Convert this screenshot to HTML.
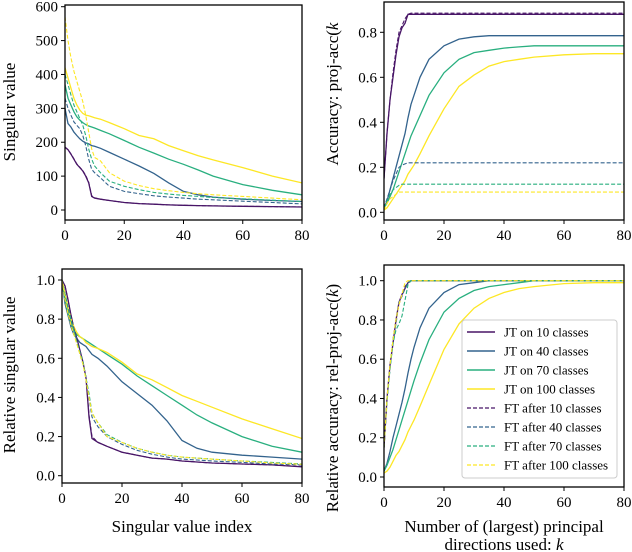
<!DOCTYPE html>
<html><head><meta charset="utf-8">
<style>
body{margin:0;background:#fff;}
svg{display:block;font-family:"Liberation Serif","DejaVu Serif",serif;}
</style></head>
<body>
<svg id="fig" width="632" height="552" viewBox="0 0 632 552" xmlns="http://www.w3.org/2000/svg"></svg>
<script>
const ks = [0,1,2,3,4,5,6,7,8,9,10,12,15,20,25,30,35,40,45,50,60,70,80];
const seriesNames = ["JT on 10 classes","JT on 40 classes","JT on 70 classes","JT on 100 classes","FT after 10 classes","FT after 40 classes","FT after 70 classes","FT after 100 classes"];
const colors = ["#481567","#33638d","#29af7f","#fde725","#481567","#33638d","#29af7f","#fde725"];
// Panel A: singular value
const svJT10 = [185,178,165,150,135,125,115,100,80,40,35,32,28,22,19,17,15,14,13,12,11,10,9];
const svJT40 = [300,255,245,230,220,210,203,198,195,190,188,182,170,150,130,108,80,55,45,38,32,28,25];
const svJT70 = [370,330,310,290,275,265,258,252,248,245,242,235,225,205,185,168,150,135,118,100,75,58,45];
const svJT100 = [420,390,360,330,310,295,285,280,278,275,272,268,258,240,220,210,190,175,160,148,125,100,80];
const svFT10 = [186,178,166,151,136,126,116,102,82,42,36,32,28,22,19,17,15,14,13,12,11,10,9];
const svFT40 = [330,300,280,260,250,240,220,190,150,120,110,95,70,55,48,42,38,35,32,30,26,22,18];
const svFT70 = [400,370,340,310,290,270,250,220,180,150,130,110,85,70,60,52,47,43,40,37,33,29,25];
const svFT100 = [570,500,450,410,380,350,320,280,230,180,155,145,110,85,72,63,57,52,48,45,40,35,30];
// Panel B: accuracy
const accJT10 = [0.15,0.35,0.5,0.6,0.7,0.78,0.82,0.84,0.88,0.88,0.88,0.88,0.88,0.88,0.88,0.88,0.88,0.88,0.88,0.88,0.88,0.88,0.88];
const accJT40 = [0.02,0.05,0.1,0.15,0.2,0.25,0.3,0.35,0.42,0.48,0.52,0.6,0.68,0.74,0.77,0.78,0.785,0.785,0.785,0.785,0.785,0.785,0.785];
const accJT70 = [0.02,0.04,0.07,0.1,0.14,0.18,0.22,0.26,0.3,0.34,0.37,0.43,0.52,0.62,0.68,0.71,0.72,0.73,0.735,0.74,0.74,0.74,0.74];
const accJT100 = [0.01,0.02,0.04,0.06,0.08,0.1,0.12,0.14,0.17,0.19,0.21,0.26,0.34,0.46,0.56,0.61,0.65,0.67,0.68,0.69,0.7,0.705,0.705];
const accFT10 = [0.15,0.35,0.5,0.62,0.72,0.8,0.83,0.86,0.88,0.885,0.885,0.885,0.885,0.885,0.885,0.885,0.885,0.885,0.885,0.885,0.885,0.885,0.885];
const accFT40 = [0.02,0.06,0.1,0.14,0.17,0.2,0.21,0.215,0.22,0.22,0.22,0.22,0.22,0.22,0.22,0.22,0.22,0.22,0.22,0.22,0.22,0.22,0.22];
const accFT70 = [0.02,0.05,0.08,0.1,0.11,0.12,0.125,0.125,0.125,0.125,0.125,0.125,0.125,0.125,0.125,0.125,0.125,0.125,0.125,0.125,0.125,0.125,0.125];
const accFT100 = [0.01,0.04,0.06,0.07,0.08,0.09,0.09,0.09,0.09,0.09,0.09,0.09,0.09,0.09,0.09,0.09,0.09,0.09,0.09,0.09,0.09,0.09,0.09];
// Panel C: relative singular value
const rsvJT10 = [1.0,0.97,0.9,0.82,0.75,0.7,0.64,0.58,0.5,0.3,0.19,0.17,0.15,0.12,0.105,0.09,0.085,0.075,0.07,0.065,0.06,0.055,0.045];
const rsvJT40 = [1.0,0.88,0.82,0.76,0.72,0.7,0.68,0.67,0.66,0.64,0.62,0.6,0.56,0.48,0.42,0.36,0.28,0.18,0.14,0.12,0.105,0.095,0.085];
const rsvJT70 = [1.0,0.9,0.83,0.78,0.74,0.72,0.71,0.7,0.69,0.68,0.67,0.65,0.62,0.57,0.51,0.46,0.41,0.36,0.31,0.27,0.2,0.15,0.12];
const rsvJT100 = [1.0,0.93,0.86,0.8,0.76,0.73,0.71,0.7,0.68,0.67,0.66,0.65,0.63,0.58,0.52,0.49,0.45,0.41,0.38,0.35,0.29,0.24,0.19];
const rsvFT10 = [1.0,0.97,0.9,0.82,0.75,0.7,0.64,0.58,0.5,0.31,0.2,0.17,0.15,0.12,0.105,0.09,0.085,0.075,0.07,0.065,0.06,0.055,0.047];
const rsvFT40 = [1.0,0.9,0.85,0.79,0.74,0.68,0.62,0.57,0.5,0.4,0.3,0.25,0.2,0.16,0.13,0.11,0.095,0.085,0.08,0.075,0.068,0.06,0.055];
const rsvFT70 = [1.0,0.93,0.86,0.8,0.74,0.68,0.63,0.58,0.5,0.42,0.32,0.27,0.21,0.17,0.14,0.12,0.105,0.095,0.09,0.085,0.075,0.068,0.06];
const rsvFT100 = [1.0,0.9,0.83,0.77,0.72,0.67,0.62,0.57,0.49,0.4,0.32,0.27,0.2,0.17,0.14,0.12,0.105,0.095,0.09,0.085,0.075,0.065,0.058];
// Panel D: relative accuracy
const raJT10 = [0.15,0.4,0.57,0.68,0.8,0.89,0.93,0.96,0.99,1,1,1,1,1,1,1,1,1,1,1,1,1,1];
const raJT40 = [0.03,0.07,0.13,0.2,0.26,0.32,0.38,0.45,0.53,0.6,0.66,0.76,0.86,0.94,0.98,0.99,1,1,1,1,1,1,1];
const raJT70 = [0.03,0.06,0.1,0.14,0.19,0.24,0.29,0.34,0.39,0.44,0.49,0.58,0.7,0.84,0.91,0.95,0.97,0.98,0.99,1,1,1,1];
const raJT100 = [0.02,0.03,0.05,0.08,0.11,0.13,0.16,0.19,0.23,0.26,0.29,0.36,0.47,0.65,0.78,0.86,0.91,0.94,0.96,0.97,0.985,0.99,0.99];
const raFT10 = [0.15,0.4,0.56,0.7,0.8,0.88,0.93,0.97,0.99,1,1,1,1,1,1,1,1,1,1,1,1,1,1];
const raFT40 = [0.15,0.4,0.55,0.7,0.78,0.89,0.92,0.96,0.99,1,1,1,1,1,1,1,1,1,1,1,1,1,1];
const raFT70 = [0.15,0.38,0.55,0.68,0.75,0.78,0.82,0.9,0.98,1,1,1,1,1,1,1,1,1,1,1,1,1,1];
const raFT100 = [0.15,0.4,0.57,0.7,0.8,0.88,0.93,0.99,1,1,1,1,1,1,1,1,1,1,1,1,1,1,1];
const xTicks = [0,20,40,60,80];
const svTicks = [0,100,200,300,400,500,600];
const accTicks = [0,0.2,0.4,0.6,0.8];
const relTicks = [0,0.2,0.4,0.6,0.8,1.0];

const NS="http://www.w3.org/2000/svg";
const svg=document.getElementById('fig');
function mk(tag,attrs,parent){const e=document.createElementNS(NS,tag);for(const k in attrs)e.setAttribute(k,attrs[k]);(parent||svg).appendChild(e);return e;}

function panel(name,box,xr,yr,yticks,fmt,series){
  const g=mk('g',{});
  
  
  const X=v=>box.x0+(v-xr[0])/(xr[1]-xr[0])*(box.x1-box.x0);
  const Y=v=>yr.py0+(v-yr[0])/(yr[1]-yr[0])*(yr.py1-yr.py0);
  const cid='clip-'+name;
  const cp=mk('clipPath',{id:cid},g);mk('rect',{x:box.x0,y:box.y0,width:box.x1-box.x0,height:box.y1-box.y0},cp);
  const lg=mk('g',{'clip-path':'url(#'+cid+')'},g);
  series.forEach((s,i)=>{
    const d=ks.map((k,j)=>(j?'L':'M')+X(k).toFixed(1)+','+Y(s[j]).toFixed(1)).join('');
    const p=mk('path',{d:d,fill:'none',stroke:colors[i],'stroke-width':i<4?1.3:1.1,'stroke-dasharray':i<4?'none':'4,2'},lg);
    
    
  });
  const fr=mk('rect',{x:box.x0,y:box.y0,width:box.x1-box.x0,height:box.y1-box.y0,fill:'none',stroke:'#000','stroke-width':1.3},g);
  
  
  xTicks.forEach(t=>{
    mk('line',{x1:X(t),x2:X(t),y1:box.y1,y2:box.y1+4,stroke:'#000'},g);
    const tx=mk('text',{x:X(t),y:box.y1+20,'font-size':15,'text-anchor':'middle'},g);tx.textContent=t;
    
    
  });
  yticks.forEach(t=>{
    mk('line',{x1:box.x0-4,x2:box.x0,y1:Y(t),y2:Y(t),stroke:'#000'},g);
    const tx=mk('text',{x:box.x0-7,y:Y(t)+5,'font-size':15,'text-anchor':'end'},g);tx.textContent=fmt(t);
    
    
  });
}
panel('panel-singular-value',{x0:65,x1:302,y0:5,y1:220},[0,80],Object.assign([0,600],{py0:210,py1:6.7}),svTicks,t=>t,
  [svJT10,svJT40,svJT70,svJT100,svFT10,svFT40,svFT70,svFT100]);
panel('panel-accuracy',{x0:384,x1:624,y0:2,y1:220},[0,80],Object.assign([0,0.8],{py0:212.3,py1:32.3}),accTicks,t=>t.toFixed(1),
  [accJT10,accJT40,accJT70,accJT100,accFT10,accFT40,accFT70,accFT100]);
panel('panel-relative-singular-value',{x0:62,x1:302,y0:269,y1:483},[0,80],Object.assign([0,1],{py0:475.7,py1:280}),relTicks,t=>t.toFixed(1),
  [rsvJT10,rsvJT40,rsvJT70,rsvJT100,rsvFT10,rsvFT40,rsvFT70,rsvFT100]);
panel('panel-relative-accuracy',{x0:384,x1:624,y0:265,y1:487},[0,80],Object.assign([0,1],{py0:477,py1:280.7}),relTicks,t=>t.toFixed(1),
  [raJT10,raJT40,raJT70,raJT100,raFT10,raFT40,raFT70,raFT100]);

// legend
const lg=mk('g',{});


mk('rect',{x:462,y:320,width:155,height:158,rx:3,fill:'#fff','fill-opacity':0.85,stroke:'#ccc'},lg);
seriesNames.forEach((n,i)=>{
  const y=332+i*19;
  const e=mk('g',{},lg);
  
  
  mk('line',{x1:467,x2:495,y1:y,y2:y,stroke:colors[i],'stroke-width':i<4?1.5:1.2,'stroke-dasharray':i<4?'none':'4,2'},e);
  const t=mk('text',{x:504,y:y+4.5,'font-size':13},e);t.textContent=n;
});
// axis labels
function lab(txt,x,y,rot,name,kpart){
  const t=mk('text',{x:x,y:y,'font-size':17,'text-anchor':'middle',transform:rot?'rotate(-90 '+x+' '+y+')':''});
  t.textContent=txt;
  if(kpart){const s=mk('tspan',{'font-style':'italic'},t);s.textContent='k';if(kpart===2){const c=mk('tspan',{},t);c.textContent=')';}}
  
  
}
lab('Singular value',15,112,true,'y-axis-title-singular-value');
lab('Accuracy: proj-acc(',338,94,true,'y-axis-title-accuracy',1);
lab('Relative singular value',15,375,true,'y-axis-title-relative-singular-value');
lab('Relative accuracy: rel-proj-acc(',338,398,true,'y-axis-title-relative-accuracy',2);
lab('Singular value index',182,532,false,'x-axis-title-index');
lab('Number of (largest) principal',504,532,false,'x-axis-title-k-line1');
lab('directions used: ',504,550,false,'x-axis-title-k-line2',1);
</script>
</body></html>
